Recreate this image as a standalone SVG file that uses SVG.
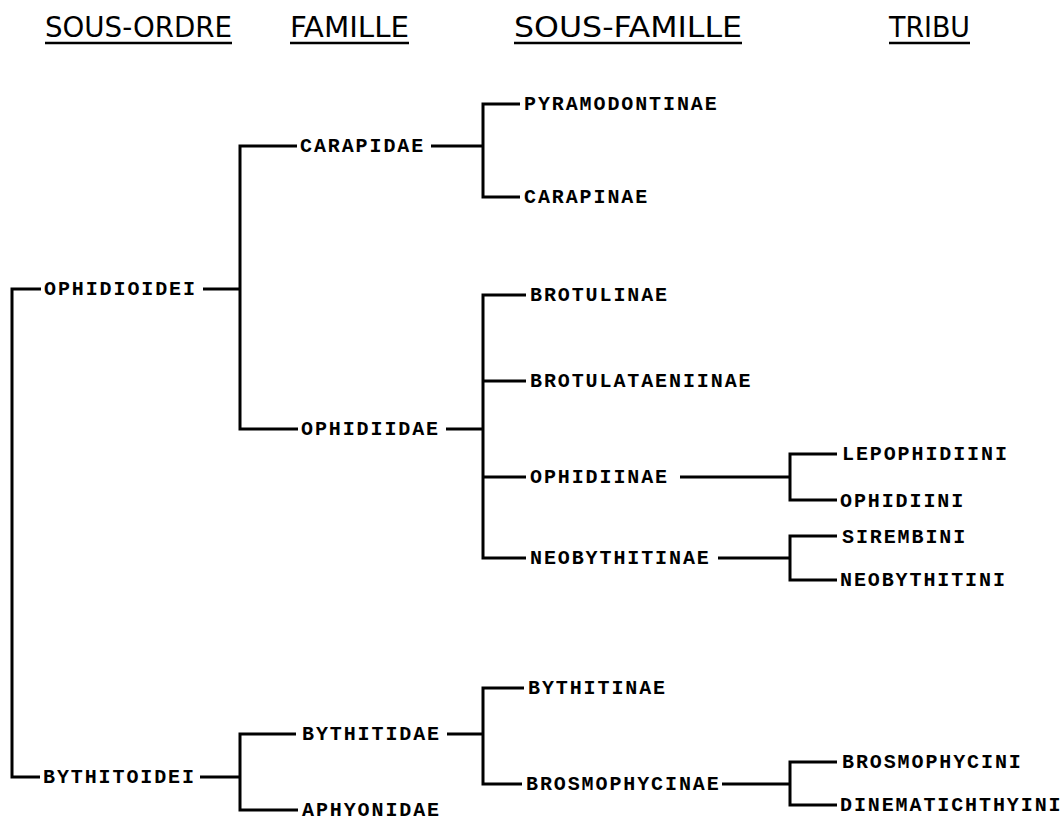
<svg xmlns="http://www.w3.org/2000/svg" width="1064" height="821" viewBox="0 0 1064 821">
<style>
.hd{font-family:"DejaVu Sans Condensed","DejaVu Sans",sans-serif;font-size:29px;fill:#000}
.ul{stroke:#000;stroke-width:2.5;fill:none}
.lb{font-family:"Liberation Mono","DejaVu Sans Mono",monospace;font-size:20px;font-weight:bold;letter-spacing:1.9px;fill:#000}
.cn{stroke:#000;stroke-width:3;fill:none;stroke-linejoin:miter;stroke-linecap:butt}
</style>
<rect width="1064" height="821" fill="#fff"/>
<g id="headers">
<text class="hd" x="45" y="37" textLength="187" lengthAdjust="spacingAndGlyphs">SOUS-ORDRE</text>
<line class="ul" x1="45" y1="43" x2="232" y2="43"/>
<text class="hd" x="290" y="37" textLength="119" lengthAdjust="spacingAndGlyphs">FAMILLE</text>
<line class="ul" x1="290" y1="43" x2="409" y2="43"/>
<text class="hd" x="514" y="37" textLength="228" lengthAdjust="spacingAndGlyphs">SOUS-FAMILLE</text>
<line class="ul" x1="514" y1="43" x2="742" y2="43"/>
<text class="hd" x="889" y="37" textLength="81" lengthAdjust="spacingAndGlyphs">TRIBU</text>
<line class="ul" x1="889" y1="43" x2="970" y2="43"/>
</g>
<g id="connectors">
<path class="cn" d="M41,289 H12 V777 H40"/>
<path class="cn" d="M203,289 H240"/>
<path class="cn" d="M297,146 H240 V429 H298"/>
<path class="cn" d="M200,777 H240"/>
<path class="cn" d="M296,734 H240 V810 H298"/>
<path class="cn" d="M431,146 H483"/>
<path class="cn" d="M520,104 H483 V197 H520"/>
<path class="cn" d="M446,429 H483"/>
<path class="cn" d="M526,295 H483 V558 H526"/>
<path class="cn" d="M483,381 H526"/>
<path class="cn" d="M483,477 H526"/>
<path class="cn" d="M680,477 H790"/>
<path class="cn" d="M837,454 H790 V500 H837"/>
<path class="cn" d="M718,558 H790"/>
<path class="cn" d="M837,536 H790 V580 H837"/>
<path class="cn" d="M447,734 H483"/>
<path class="cn" d="M524,688 H483 V784 H522"/>
<path class="cn" d="M722,784 H790"/>
<path class="cn" d="M837,762 H790 V805 H837"/>
</g>
<g id="n-ophidioidei"><text class="lb" x="44" y="295">OPHIDIOIDEI</text></g>
<g id="n-bythitoidei"><text class="lb" x="43" y="783">BYTHITOIDEI</text></g>
<g id="n-carapidae"><text class="lb" x="300" y="152">CARAPIDAE</text></g>
<g id="n-ophidiidae"><text class="lb" x="301" y="435">OPHIDIIDAE</text></g>
<g id="n-bythitidae"><text class="lb" x="302" y="740">BYTHITIDAE</text></g>
<g id="n-aphyonidae"><text class="lb" x="302" y="816">APHYONIDAE</text></g>
<g id="n-pyramodontinae"><text class="lb" x="524" y="110">PYRAMODONTINAE</text></g>
<g id="n-carapinae"><text class="lb" x="524" y="203">CARAPINAE</text></g>
<g id="n-brotulinae"><text class="lb" x="530" y="301">BROTULINAE</text></g>
<g id="n-brotulataeniinae"><text class="lb" x="530" y="387">BROTULATAENIINAE</text></g>
<g id="n-ophidiinae"><text class="lb" x="530" y="483">OPHIDIINAE</text></g>
<g id="n-neobythitinae"><text class="lb" x="530" y="564">NEOBYTHITINAE</text></g>
<g id="n-bythitinae"><text class="lb" x="528" y="694">BYTHITINAE</text></g>
<g id="n-brosmophycinae"><text class="lb" x="526" y="790">BROSMOPHYCINAE</text></g>
<g id="n-lepophidiini"><text class="lb" x="842" y="460">LEPOPHIDIINI</text></g>
<g id="n-ophidiini"><text class="lb" x="840" y="507">OPHIDIINI</text></g>
<g id="n-sirembini"><text class="lb" x="842" y="543">SIREMBINI</text></g>
<g id="n-neobythitini"><text class="lb" x="840" y="586">NEOBYTHITINI</text></g>
<g id="n-brosmophycini"><text class="lb" x="842" y="768">BROSMOPHYCINI</text></g>
<g id="n-dinematichthyini"><text class="lb" x="840" y="811">DINEMATICHTHYINI</text></g>
</svg>
